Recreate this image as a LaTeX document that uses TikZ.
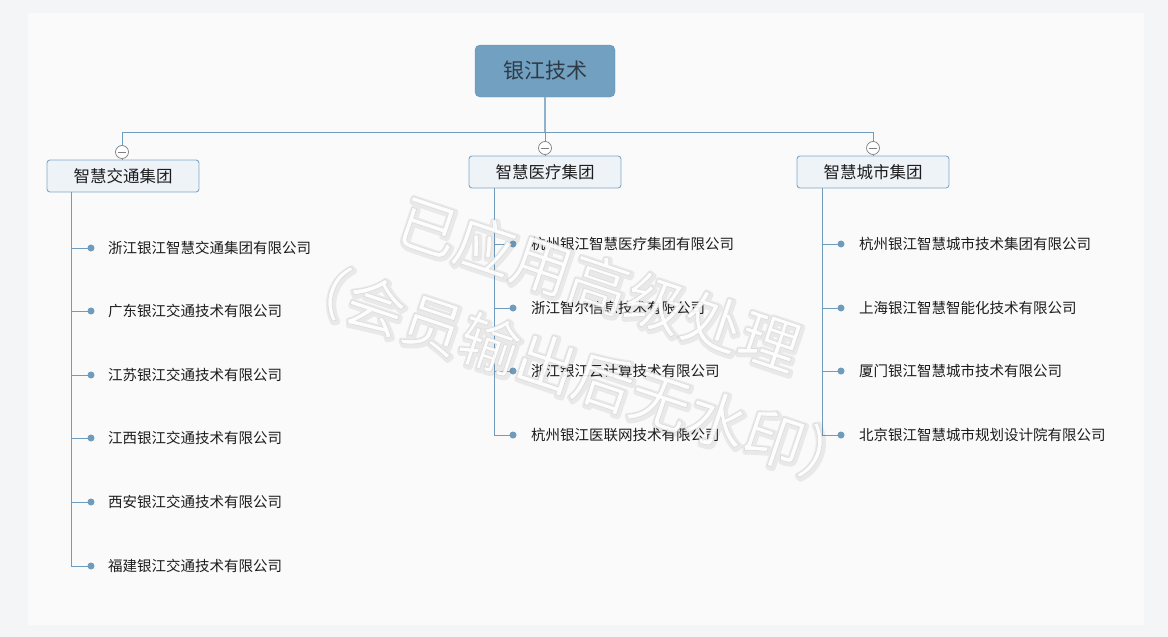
\documentclass[tikz,border=0pt]{standalone}
\usepackage{fontspec}
\newfontfamily\cjk{Noto Sans CJK SC}
\definecolor{outerbg}{HTML}{F4F5F7}
\definecolor{panelbg}{HTML}{FAFAFA}
\definecolor{rootfill}{HTML}{72A0C1}
\definecolor{rootdraw}{HTML}{6893B3}
\definecolor{roottext}{HTML}{2E3B47}
\definecolor{linec}{HTML}{6F9BBD}
\definecolor{trunkc}{HTML}{8DB2CF}
\definecolor{boxfill}{HTML}{EEF3F8}
\definecolor{boxdraw}{HTML}{7FA8C9}
\definecolor{txt}{HTML}{1C1C1C}
% stroke-only text (for the soft shadow of the watermark)
\newcommand{\wmglow}[3]{\special{pdf:literal direct q 1 Tr 1 J 1 j #1 w #2 G}#3\special{pdf:literal direct Q}}
% white text with a thin grey outline
\newcommand{\wmtext}[1]{\special{pdf:literal direct q 2 Tr 0.7 w 0.86 G}#1\special{pdf:literal direct Q}}
\tikzset{
  rootbox/.style={draw=rootdraw, fill=rootfill, rounded corners=5pt, minimum width=140pt, minimum height=52pt, inner sep=0pt, font=\cjk\fontsize{21}{21}\selectfont, text=roottext},
  branchbox/.style={draw=boxdraw, line width=0.9pt, fill=boxfill, rounded corners=3pt, minimum width=152pt, minimum height=32pt, inner sep=0pt, font=\cjk\fontsize{16.5}{16.5}\selectfont, text=txt},
  toggle/.style={circle, draw=black!50, fill=white, line width=0.7pt, minimum size=13pt, inner sep=0pt},
  leafdot/.style={circle, fill=linec, minimum size=7pt, inner sep=0pt},
  leaftext/.style={anchor=west, inner sep=0pt, font=\cjk\fontsize{14.5}{14.5}\selectfont, text=txt},
  conn/.style={draw=linec, line width=1pt},
  wmbase/.style={font=\cjk\fontsize{60}{60}\selectfont, inner sep=0pt, rotate=-18.5},
  wmark/.style={wmbase, text=white, opacity=0.92},
  wmshade/.style={wmbase, text=white, opacity=0.10},
}
\begin{document}
\begin{tikzpicture}[x=1pt,y=-1pt]
% background
\fill[outerbg] (0,0) rectangle (1168,637);
\fill[panelbg] (28,13) rectangle (1144,625);
\useasboundingbox (0,0) rectangle (1168,637);

% root
\node[rootbox] (root) at (545,71) {银江技术};
\coordinate (j) at (545,132);

% branches
\node[branchbox] (b1) at (123,176) {智慧交通集团};
\node[branchbox] (b2) at (545,172) {智慧医疗集团};
\node[branchbox] (b3) at (873,172) {智慧城市集团};

% toggles
\node[toggle] (c1) at (122,152) {};
\node[toggle] (c2) at (545,148) {};
\node[toggle] (c3) at (873,148) {};

% connectors from root
\draw[draw=trunkc, line width=1.8pt] (root.south) -- (j);
\draw[conn] (c1.north) -- (c1.north |- j) -- (c3.north |- j) -- (c3.north);
\draw[conn] (c2.north) -- (c2.north |- j);
\draw[conn] (c1.south) -- (c1.south |- b1.north);
\draw[conn] (c2.south) -- (c2.south |- b2.north);
\draw[conn] (c3.south) -- (c3.south |- b3.north);

% minus signs in toggles
\foreach \c in {c1,c2,c3}{
  \draw[black!50, line width=0.8pt] ([xshift=-4pt]\c.center) -- ([xshift=4pt]\c.center);
}

% trunk coordinates under each branch
\coordinate (t1) at (71,192);
\coordinate (t2) at (494,188);
\coordinate (t3) at (822,188);

% leaves of branch 1
\foreach \i/\y/\name in {1/248/浙江银江智慧交通集团有限公司, 2/311/广东银江交通技术有限公司, 3/375/江苏银江交通技术有限公司, 4/438/江西银江交通技术有限公司, 5/502/西安银江交通技术有限公司, 6/566/福建银江交通技术有限公司}{
  \node[leafdot] (d1\i) at (91,\y) {};
  \node[leaftext] (l1\i) at (108,\y) {\name};
  \draw[conn] (t1 |- d1\i) -- (d1\i.center);
}
\draw[conn] (t1) -- (t1 |- d16);

% leaves of branch 2
\foreach \i/\y/\name in {1/244/杭州银江智慧医疗集团有限公司, 2/308/浙江智尔信息技术有限公司, 3/371/浙江银江云计算技术有限公司, 4/435/杭州银江医联网技术有限公司}{
  \node[leafdot] (d2\i) at (513,\y) {};
  \node[leaftext] (l2\i) at (531,\y) {\name};
  \draw[conn] (t2 |- d2\i) -- (d2\i.center);
}
\draw[conn] (t2) -- (t2 |- d24);

% leaves of branch 3
\foreach \i/\y/\name in {1/244/杭州银江智慧城市技术集团有限公司, 2/308/上海银江智慧智能化技术有限公司, 3/371/厦门银江智慧城市技术有限公司, 4/435/北京银江智慧城市规划设计院有限公司}{
  \node[leafdot] (d3\i) at (841,\y) {};
  \node[leaftext] (l3\i) at (859,\y) {\name};
  \draw[conn] (t3 |- d3\i) -- (d3\i.center);
}
\draw[conn] (t3) -- (t3 |- d34);

% watermark: soft shadow, then white letters with a thin outline
\node[wmshade] (ws1) at (600,285.5) {\wmglow{6}{0.35}{已应用高级处理}};
\node[wmshade] (ws2) at (576,373.5) {\wmglow{6}{0.35}{（会员输出后无水印）}};
\node[wmark] (wm1) at (599,284) {\wmtext{已应用高级处理}};
\node[wmark] (wm2) at (575,372) {\wmtext{（会员输出后无水印）}};
\end{tikzpicture}
\end{document}
